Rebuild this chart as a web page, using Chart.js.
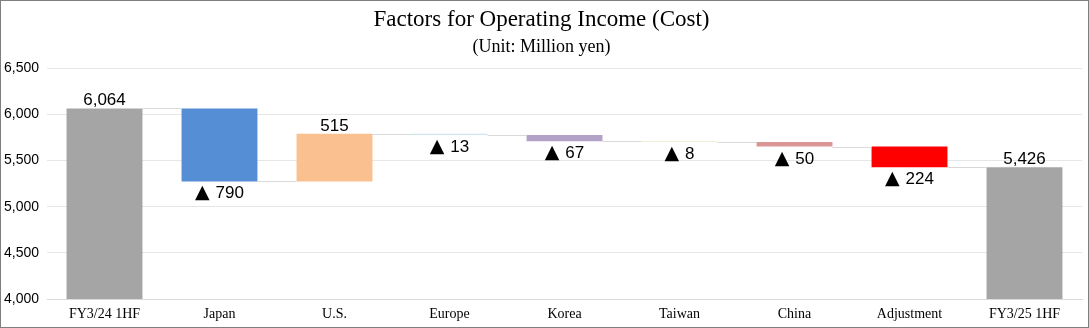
<!DOCTYPE html>
<html>
<head>
<meta charset="utf-8">
<script src="https://cdn.jsdelivr.net/npm/chart.js@4"></script>
<style>
  html, body { margin: 0; padding: 0; background: #fff; }
  #frame { width: 1089px; height: 328px; box-sizing: border-box; border: 1px solid #7f7f7f; position: relative; }
  #frame canvas { display: block; }
</style>
</head>
<body>
<div id="frame"><canvas id="chart"></canvas></div>
<script>
// Operating income bridge, FY3/24 1HF -> FY3/25 1HF (million yen)
const categories = ['FY3/24 1HF', 'Japan', 'U.S.', 'Europe', 'Korea', 'Taiwan', 'China', 'Adjustment', 'FY3/25 1HF'];
const startValue = 6064;
const changes = [-790, 515, -13, -67, -8, -50, -224];   // Japan .. Adjustment
const endValue = 5426;
const yTicks = [4000, 4500, 5000, 5500, 6000, 6500];
const barColors = ['#a5a5a5', '#558ed5', '#fac090', '#cde6ef', '#b3a2c7', '#e4ebcc', '#d99694', '#ff0000', '#a5a5a5'];

const yMin = yTicks[0];
const yMax = yTicks[yTicks.length - 1];

// floating [low, high] ranges for each bar
const ranges = [];
const bounds = [];            // [from, to] running level per bar
ranges.push([yMin, startValue]);
bounds.push([startValue, startValue]);
let level = startValue;
changes.forEach(d => {
  const next = level + d;
  ranges.push([Math.min(level, next), Math.max(level, next)]);
  bounds.push([level, next]);
  level = next;
});
ranges.push([yMin, endValue]);
bounds.push([endValue, endValue]);

const fmt = v => Math.abs(v).toLocaleString('en-US');
const labelNums = [fmt(startValue)].concat(changes.map(fmt)).concat([fmt(endValue)]);
const labelBelow = [false].concat(changes.map(d => d < 0)).concat([false]);

const NUM_FONT = '17px "Liberation Sans", Arial, sans-serif';
const TRI_FONT = '19px "DejaVu Sans", sans-serif';
const TRI = '\u25B2';

// connector lines between bars + value labels ("▲" marks a decrease)
const bridgePlugin = {
  id: 'bridge',
  afterDatasetsDraw(chart) {
    const ctx = chart.ctx;
    const meta = chart.getDatasetMeta(0);
    const y = chart.scales.y;
    ctx.save();
    ctx.strokeStyle = '#d9d9d9';
    ctx.lineWidth = 1;
    for (let i = 0; i < meta.data.length - 1; i++) {
      const a = meta.data[i], b = meta.data[i + 1];
      const py = Math.round(y.getPixelForValue(bounds[i][1])) + 0.5;
      ctx.beginPath();
      ctx.moveTo(a.x + a.width / 2, py);
      ctx.lineTo(b.x - b.width / 2, py);
      ctx.stroke();
    }
    ctx.fillStyle = '#000';
    ctx.textBaseline = 'alphabetic';
    meta.data.forEach((bar, i) => {
      const r = ranges[i];
      ctx.font = NUM_FONT;
      const numW = ctx.measureText(labelNums[i]).width;
      if (labelBelow[i]) {
        const base = y.getPixelForValue(r[0]) + 17;
        ctx.font = TRI_FONT;
        const triW = ctx.measureText(TRI).width;
        const gap = 6;
        const left = bar.x - (triW + gap + numW) / 2;
        ctx.textAlign = 'left';
        ctx.fillText(TRI, left, base);
        ctx.font = NUM_FONT;
        ctx.fillText(labelNums[i], left + triW + gap, base);
      } else {
        ctx.textAlign = 'center';
        ctx.font = NUM_FONT;
        ctx.fillText(labelNums[i], bar.x, y.getPixelForValue(r[1]) - 3);
      }
    });
    ctx.restore();
  }
};

new Chart(document.getElementById('chart'), {
  type: 'bar',
  data: {
    labels: categories,
    datasets: [{
      data: ranges,
      backgroundColor: barColors,
      borderWidth: 0,
      categoryPercentage: 1,
      barPercentage: 0.66
    }]
  },
  options: {
    responsive: true,
    maintainAspectRatio: false,
    animation: false,
    layout: { padding: { left: 0, right: 6, top: 0, bottom: 0 } },
    plugins: {
      legend: { display: false },
      tooltip: { enabled: false },
      title: {
        display: true,
        text: 'Factors for Operating Income (Cost)',
        color: '#000',
        font: { family: '"Liberation Serif", "Times New Roman", serif', size: 23, weight: 'normal', lineHeight: 1.2 },
        padding: { top: 5, bottom: 1 }
      },
      subtitle: {
        display: true,
        text: '(Unit: Million yen)',
        color: '#000',
        font: { family: '"Liberation Serif", "Times New Roman", serif', size: 18, weight: 'normal', lineHeight: 1.2 },
        padding: { top: 2, bottom: 10 }
      }
    },
    scales: {
      x: {
        grid: { display: false, drawTicks: false },
        border: { display: true, color: '#d9d9d9' },
        ticks: {
          color: '#000',
          padding: 7,
          maxRotation: 0,
          font: { family: '"Liberation Serif", "Times New Roman", serif', size: 14 }
        },
        afterFit(scale) { scale.height = 28; }
      },
      y: {
        min: yMin,
        max: yMax,
        grid: { color: '#e6e6e6', drawTicks: false },
        border: { display: false },
        afterBuildTicks(scale) { scale.ticks = yTicks.map(v => ({ value: v })); },
        ticks: {
          color: '#000',
          padding: 8,
          font: { family: '"Liberation Sans", Arial, sans-serif', size: 14 },
          callback: v => v.toLocaleString('en-US')
        },
        afterFit(scale) { scale.width = 46; }
      }
    }
  },
  plugins: [bridgePlugin]
});
</script>
</body>
</html>
